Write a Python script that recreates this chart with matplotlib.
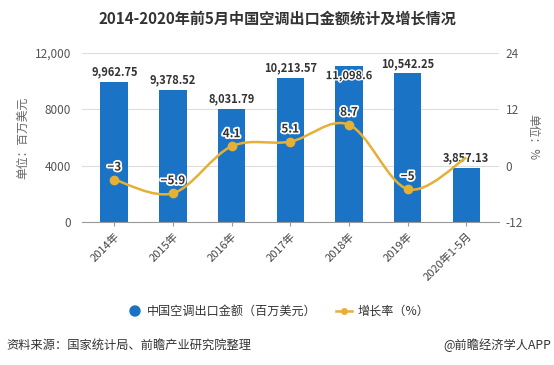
import matplotlib.pyplot as plt
import matplotlib.patheffects as pe
from matplotlib.path import Path
from matplotlib.patches import PathPatch
import numpy as np

plt.rcParams['font.family'] = ['Noto Sans CJK SC', 'DejaVu Sans']

years = ['2014年', '2015年', '2016年', '2017年', '2018年', '2019年', '2020年1-5月']
export = [9962.75, 9378.52, 8031.79, 10213.57, 11098.6, 10542.25, 3857.13]
export_lbl = ['9,962.75', '9,378.52', '8,031.79', '10,213.57', '11,098.6', '10,542.25', '3,857.13']
growth = [-3, -5.9, 4.1, 5.1, 8.7, -5, 1.7]
growth_lbl = ['−3', '−5.9', '4.1', '5.1', '8.7', '−5', '']

bar_c = '#1a73c4'
line_c = '#e6b035'

fig = plt.figure(figsize=(5.54, 3.65), dpi=100)
ax = fig.add_axes([0.148, 0.392, 0.752, 0.463])
ax2 = ax.twinx()

x = np.arange(len(years))
ax.bar(x, export, width=0.47, color=bar_c, zorder=2)
ax.set_ylim(0, 12000)
ax.set_yticks([0, 4000, 8000, 12000])
ax.set_yticklabels(['0', '4000', '8000', '12,000'], fontsize=8.5, color='#555555')
ax.grid(axis='y', color='#dddddd', lw=0.8, zorder=0)
ax.set_xlim(-0.55, len(years) - 0.45)
ax.set_xticks(x)
ax.set_xticklabels(years, rotation=45, ha='right', rotation_mode='anchor', fontsize=8, color='#444444')
ax.tick_params(axis='y', length=0, pad=8)
ax.tick_params(axis='x', length=3, color='#999999')
for s in ['top', 'left', 'right']:
    ax.spines[s].set_visible(False)
    ax2.spines[s].set_visible(False)
ax.spines['bottom'].set_color('#999999')
ax2.spines['bottom'].set_visible(False)
ax.set_ylabel('单位：百万美元', fontsize=8.5, color='#666666', labelpad=4)

for i, (xi, v, t) in enumerate(zip(x, export, export_lbl)):
    if i == 4:
        # label pushed down into the bar top
        ax.text(xi, v - 250, t, ha='center', va='top', fontsize=8, fontweight='bold', color='#333333', zorder=5,
                path_effects=[pe.withStroke(linewidth=2, foreground='white')])
    else:
        ax.text(xi, v + 250, t, ha='center', va='bottom', fontsize=8, fontweight='bold', color='#333333', zorder=5)

# smooth line through the points (Catmull-Rom as cubic bezier)
pts = np.column_stack([x, growth]).astype(float)
verts = [pts[0]]
codes = [Path.MOVETO]
for i in range(len(pts) - 1):
    p0 = pts[i - 1] if i > 0 else pts[i]
    p1 = pts[i]
    p2 = pts[i + 1]
    p3 = pts[i + 2] if i + 2 < len(pts) else pts[i + 1]
    c1 = p1 + (p2 - p0) / 6
    c2 = p2 - (p3 - p1) / 6
    verts += [c1, c2, p2]
    codes += [Path.CURVE4] * 3
ax2.add_patch(PathPatch(Path(verts, codes), fc='none', ec=line_c, lw=1.8, zorder=3))
ax2.plot(x[:-1], growth[:-1], 'o', color=line_c, ms=6, zorder=4)
ax2.set_ylim(-12, 24)
ax2.set_yticks([-12, 0, 12, 24])
ax2.set_yticklabels(['-12', '0', '12', '24'], fontsize=8.5, color='#555555')
ax2.tick_params(axis='y', length=0, pad=5)
ax2.set_ylabel('单位：%', fontsize=8.5, color='#666666', rotation=270, labelpad=12)

for xi, v, t in zip(x, growth, growth_lbl):
    if t:
        ax2.text(xi, v + 1.3, t, ha='center', va='bottom', fontsize=8.5, fontweight='bold', color='#333333',
                 zorder=6, path_effects=[pe.withStroke(linewidth=2.5, foreground='white')])

fig.text(0.5, 0.948, '2014-2020年前5月中国空调出口金额统计及增长情况', ha='center', va='center',
         fontsize=10.9, fontweight='bold', color='#333333')

# legend
ly = 1 - 311 / 365
fig.patches.append(plt.Circle((135, 365 - 311), 5, transform=None, color=bar_c, figure=fig))
fig.text(0.266, ly, '中国空调出口金额（百万美元）', ha='left', va='center', fontsize=8.7, color='#333333')
fig.lines.append(plt.Line2D([0.606, 0.636], [ly] * 2, transform=fig.transFigure, color=line_c, lw=1.8))
fig.lines.append(plt.Line2D([0.621], [ly], transform=fig.transFigure, marker='o', color=line_c, ms=4))
fig.text(0.645, ly, '增长率（%）', ha='left', va='center', fontsize=8.7, color='#333333')

fig.text(0.011, 1 - 345 / 365, '资料来源：国家统计局、前瞻产业研究院整理', ha='left', va='center', fontsize=8.8, color='#333333')
fig.text(0.995, 1 - 345 / 365, '@前瞻经济学人APP', ha='right', va='center', fontsize=8.8, color='#333333')

fig.savefig('out.png', dpi=100)
